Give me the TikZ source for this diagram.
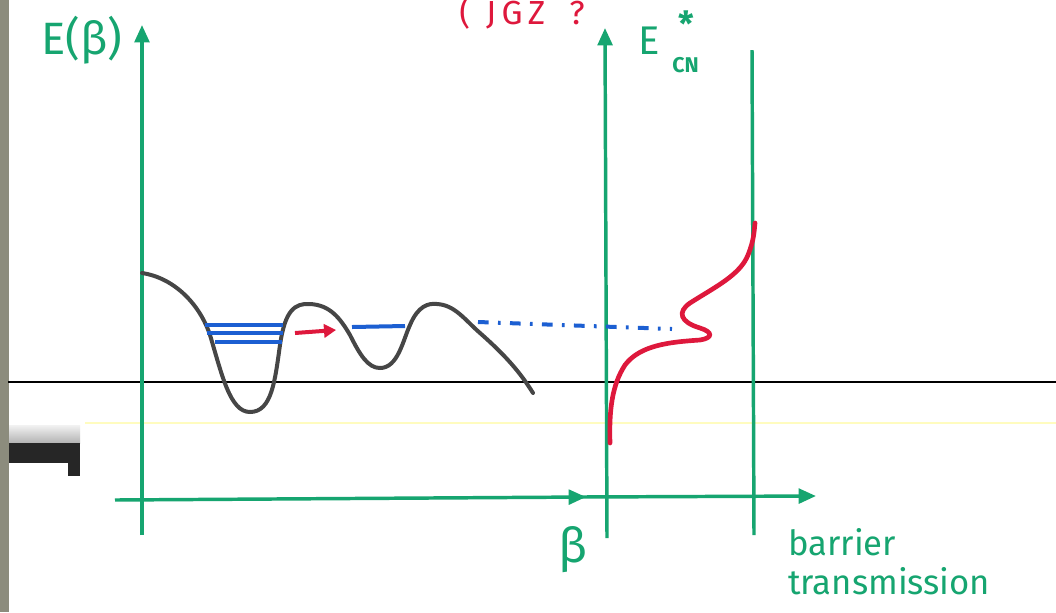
\documentclass[tikz,border=0pt]{standalone}
\usepackage{fontspec}
\setmainfont{Fira Sans}
\usetikzlibrary{arrows.meta}
\definecolor{pen}{RGB}{22,165,112}
\definecolor{redpen}{RGB}{222,24,60}
\definecolor{bluepen}{RGB}{28,95,210}
\definecolor{graypen}{RGB}{70,70,70}
\definecolor{frame}{RGB}{140,140,125}
\tikzset{
  axis/.style={draw=pen, line width=2.6pt},
  axarrow/.style={axis, -{Triangle[length=13pt,width=11pt]}},
  lbl/.style={text=pen, inner sep=0pt},
  pot/.style={draw=graypen, line width=3pt, line cap=round},
  level/.style={draw=bluepen, line width=3pt},
}
\begin{document}
\begin{tikzpicture}[x=0.75pt,y=-0.75pt]
\useasboundingbox (0,0) rectangle (1056,612);
\fill[white] (0,0) rectangle (1056,612);
% scan frame
\fill[frame] (0,0) rectangle (9,612);
\shade[top color=black!5, bottom color=black!30] (9,425) rectangle (80,443);
\fill[black!85] (9,443) rectangle (80,463);
\fill[black!85] (68,463) rectangle (80,476);
\draw[yellow!25!white, line width=1.5pt] (85,423) -- (1056,423);
% baseline
\coordinate (bl0) at (8,382);
\coordinate (bl1) at (1056,382);
\draw[black, line width=1.8pt] (bl0) -- (bl1);
% axes
\coordinate (ya0) at (142,535);
\coordinate (ya1) at (142,25);
\draw[axarrow] (ya0) -- (ya1);
\coordinate (xa0) at (115,500);
\coordinate (xa1) at (586,497);
\draw[axarrow] (xa0) -- (xa1);
\coordinate (yb0) at (607,538);
\coordinate (yb1) at (605,28);
\draw[axarrow] (yb0) -- (yb1);
\coordinate (yc0) at (754,535);
\coordinate (yc1) at (752,50);
\draw[axis] (yc0) -- (yc1);
\coordinate (xb0) at (580,497);
\coordinate (xb1) at (816,496);
\draw[axarrow] (xb0) -- (xb1);
% labels
\node[lbl, font=\fontsize{34}{34}\selectfont, anchor=base] (ebeta) at (82,54) {E(β)};
\node[lbl, font=\fontsize{36}{36}\selectfont, anchor=base] (beta) at (573,562) {β};
\node[lbl, font=\fontsize{30}{30}\selectfont, anchor=base west] (ecn) at (638,54) {E};
\node[lbl, font=\fontsize{26}{26}\selectfont\bfseries] (star) at (686,24) {*};
\node[lbl, font=\fontsize{16}{16}\selectfont\bfseries, anchor=base west] (cn) at (672,72) {CN};
\node[lbl, font=\fontsize{26}{26}\selectfont, anchor=base west] (barrier) at (788,555) {barrier};
\node[lbl, font=\fontsize{26}{26}\selectfont, anchor=base west] (trans) at (788,594) {transmission};
\node[text=redpen, inner sep=0pt, font=\fontsize{25}{25}\selectfont, anchor=base] (jgz) at (522,24) {(\hspace{12pt}J\hspace{4pt}G\hspace{4pt}Z\hspace{18pt}?};
% potential curve
\draw[pot] (142,273) .. controls (175,278) and (200,305) .. (210,335)
  .. controls (222,375) and (230,412) .. (250,412)
  .. controls (272,412) and (275,380) .. (280,345)
  .. controls (285,310) and (295,303) .. (310,304)
  .. controls (330,305) and (340,318) .. (350,335)
  .. controls (360,355) and (368,368) .. (380,368)
  .. controls (398,368) and (403,340) .. (410,325)
  .. controls (418,306) and (428,303) .. (437,304)
  .. controls (455,305) and (465,320) .. (480,333)
  .. controls (505,355) and (520,372) .. (533,393);
% levels
\draw[level] (205,325) -- (283,325);
\draw[level] (207,333) -- (283,333);
\draw[level, line width=2.4pt] (215,342) -- (282,342);
\draw[redpen, line width=3pt, -{Triangle[length=9pt,width=10pt]}] (295,333) -- (336,330);
\draw[level] (352,327) -- (405,326);
\draw[level, dash pattern=on 8pt off 7pt on 2pt off 7pt] (478,322) -- (672,329);
% transmission curve
\draw[redpen, line width=3.5pt, line cap=round] (610,443) .. controls (609,410) and (612,385) .. (625,365)
  .. controls (640,345) and (670,342) .. (700,340)
  .. controls (713,338) and (713,332) .. (700,328)
  .. controls (680,322) and (677,312) .. (690,303)
  .. controls (715,287) and (740,275) .. (748,255)
  .. controls (754,240) and (754,232) .. (755,223);
\end{tikzpicture}
\end{document}
